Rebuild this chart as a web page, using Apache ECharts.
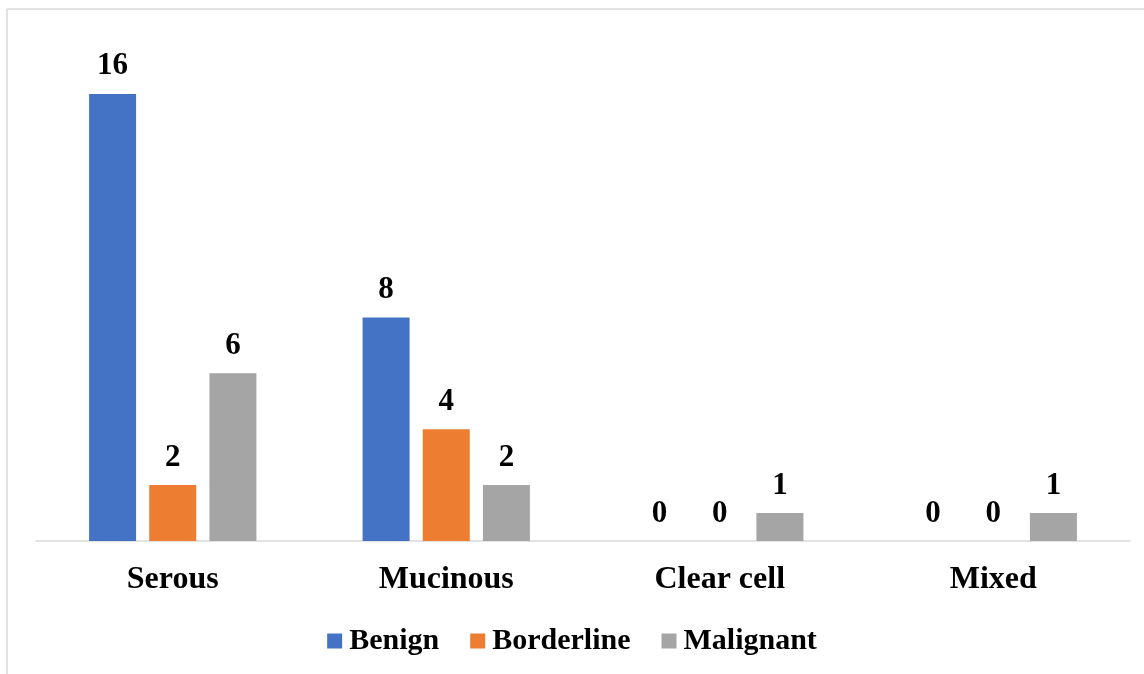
<!DOCTYPE html>
<html>
<head>
<meta charset="utf-8">
<script src="https://cdn.jsdelivr.net/npm/echarts@6/dist/echarts.min.js"></script>
<style>
  html, body { margin: 0; padding: 0; background: #fff; }
  #chart { width: 1144px; height: 674px; }
</style>
</head>
<body>
<div id="chart"></div>
<script>
// Tumour types on the x axis, one bar per behaviour group
const categories = ['Serous', 'Mucinous', 'Clear cell', 'Mixed'];
const benign = [16, 8, 0, 0];
const borderline = [2, 4, 0, 0];
const malignant = [6, 2, 1, 1];

const FONT = '"Liberation Serif", "Times New Roman", serif';
const labelStyle = {
  show: true,
  position: 'top',
  distance: 12,
  fontFamily: FONT,
  fontWeight: 'bold',
  fontSize: 31,
  color: '#000'
};

function bar(name, data, color) {
  return {
    name: name,
    type: 'bar',
    data: data,
    barWidth: 47,
    barGap: '28%',
    itemStyle: { color: color },
    label: labelStyle
  };
}

const chart = echarts.init(document.getElementById('chart'), null, { renderer: 'canvas' });
chart.setOption({
  animation: false,
  backgroundColor: '#fff',
  graphic: [
    // chart-area frame (left and top edges)
    { type: 'line', shape: { x1: 7, y1: 9, x2: 7, y2: 674 }, style: { stroke: '#d9d9d9', lineWidth: 1.5 } },
    { type: 'line', shape: { x1: 7, y1: 9, x2: 1144, y2: 9 }, style: { stroke: '#d9d9d9', lineWidth: 1.5 } }
  ],
  grid: { left: 36, right: 14, top: 38, bottom: 133, containLabel: false },
  legend: {
    bottom: 13,
    left: 'center',
    itemWidth: 15,
    itemHeight: 15,
    itemGap: 31,
    icon: 'rect',
    textStyle: { fontFamily: FONT, fontWeight: 'bold', fontSize: 30, color: '#000', padding: [0, 0, 0, 2] },
    data: ['Benign', 'Borderline', 'Malignant']
  },
  xAxis: {
    type: 'category',
    data: categories,
    axisLine: { lineStyle: { color: '#d9d9d9', width: 1.5 } },
    axisTick: { show: false },
    axisLabel: {
      margin: 23,
      fontFamily: FONT,
      fontWeight: 'bold',
      fontSize: 32,
      color: '#000'
    }
  },
  yAxis: {
    type: 'value',
    min: 0,
    max: 18,
    show: false,
    splitLine: { show: false }
  },
  series: [
    bar('Benign', benign, '#4472c4'),
    bar('Borderline', borderline, '#ed7d31'),
    bar('Malignant', malignant, '#a5a5a5')
  ]
});
</script>
</body>
</html>
